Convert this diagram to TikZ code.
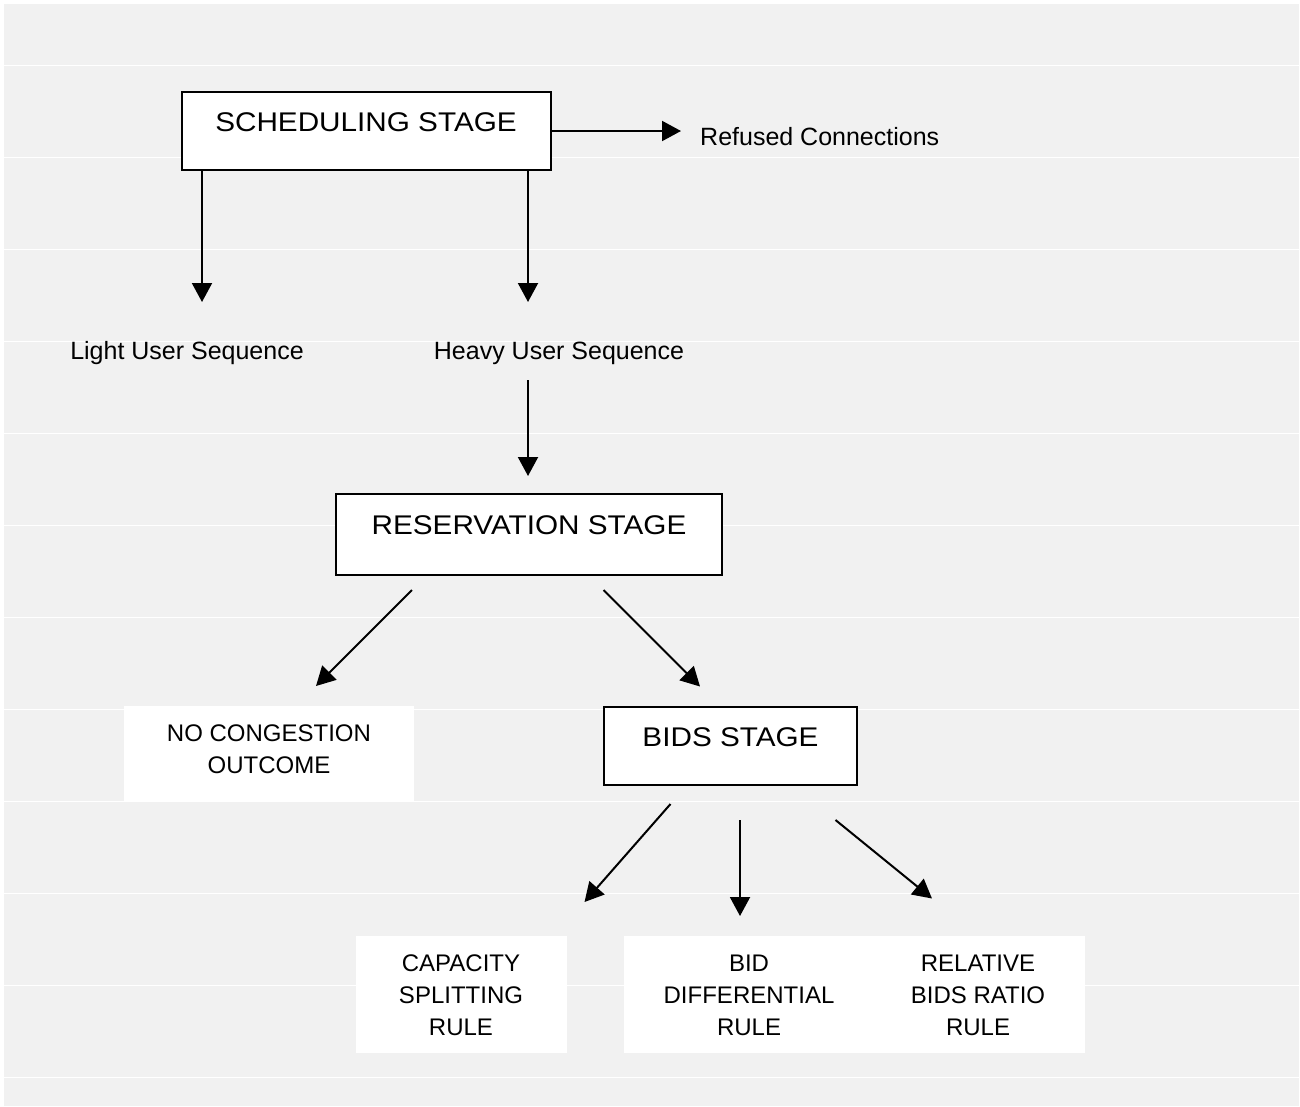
\documentclass[tikz,border=0pt]{standalone}
\usepackage{fontspec}
\setmainfont{Liberation Sans}
\newfontfamily\titlefont[FakeStretch=1.1]{Liberation Sans}
\usetikzlibrary{arrows.meta,calc}
\definecolor{bgcol}{RGB}{241,241,241}
\begin{document}
\begin{tikzpicture}[x=1pt,y=-1pt,
  arr/.style={line width=2pt,-{Triangle[length=19pt,width=20pt]}},
  stagebox/.style={draw,line width=2pt,fill=white,inner sep=0pt,text height=20pt,text depth=20pt,font=\titlefont\fontsize{27}{32}\selectfont},
  lbl/.style={inner sep=0pt,font=\fontsize{25}{30}\selectfont,anchor=base},
  ruletext/.style={inner sep=0pt,align=center,font=\fontsize{24}{32}\selectfont,anchor=north},
  whitebox/.style={fill=white,inner sep=0pt}]
% background
\useasboundingbox (0,0) rectangle (1300,1106);
\fill[white] (0,0) rectangle (1300,1106);
\fill[bgcol] (4,4) rectangle (1299,1106);
\foreach \k in {0,...,11}{
  \draw[white,line width=1pt] (4,{65.5+92*\k}) -- (1299,{65.5+92*\k});
}
% white panels
\node[whitebox,minimum width=290pt,minimum height=96pt] (ncbox) at (269,754) {};
\node[whitebox,minimum width=211pt,minimum height=117pt] (capbox) at (461.5,994.5) {};
\node[whitebox,minimum width=461pt,minimum height=117pt] (rulebox) at (854.5,994.5) {};
% stage boxes
\node[stagebox,minimum width=369pt,minimum height=78pt] (sched) at (366,131) {SCHEDULING STAGE};
\node[stagebox,minimum width=386pt,minimum height=81pt] (resv) at (529,534.5) {RESERVATION STAGE};
\node[stagebox,minimum width=253pt,minimum height=78pt] (bids) at (730.5,746) {BIDS STAGE};
% labels
\node[lbl,anchor=base west] (refused) at (700,145) {Refused Connections};
\node[lbl] (light) at (187,359) {Light User Sequence};
\node[lbl] (heavy) at (559,359) {Heavy User Sequence};
\node[ruletext] (nocong) at (269,725) {NO CONGESTION\\OUTCOME};
\node[ruletext] (capsplit) at (461,955) {CAPACITY\\SPLITTING\\RULE};
\node[ruletext] (biddiff) at (749,955) {BID\\DIFFERENTIAL\\RULE};
\node[ruletext] (relbids) at (978,955) {RELATIVE\\BIDS RATIO\\RULE};
% arrow end points
\coordinate (refTip) at (681,131);
\coordinate (lightTip) at (202,302);
\coordinate (heavyTip) at (528,302);
\coordinate (heavyOut) at (528,380);
\coordinate (resvTip) at (528,476);
\coordinate (resvL) at (412,590);
\coordinate (ncTip) at (316,686);
\coordinate (resvR) at (603.5,590);
\coordinate (bidsTip) at (700,686.5);
\coordinate (bidsL) at (670.5,804);
\coordinate (capTip) at (584.5,902);
\coordinate (bidsM) at (740,820);
\coordinate (diffTip) at (740,916);
\coordinate (bidsR) at (835.5,820);
\coordinate (relTip) at (932,898.5);
% connectors
\draw[arr] (sched.east) -- (refTip);
\draw[arr] (lightTip |- sched.south) -- (lightTip);
\draw[arr] (heavyTip |- sched.south) -- (heavyTip);
\draw[arr] (heavyOut) -- (resvTip);
\draw[arr] (resvL) -- (ncTip);
\draw[arr] (resvR) -- (bidsTip);
\draw[arr] (bidsL) -- (capTip);
\draw[arr] (bidsM) -- (diffTip);
\draw[arr] (bidsR) -- (relTip);
\end{tikzpicture}
\end{document}
